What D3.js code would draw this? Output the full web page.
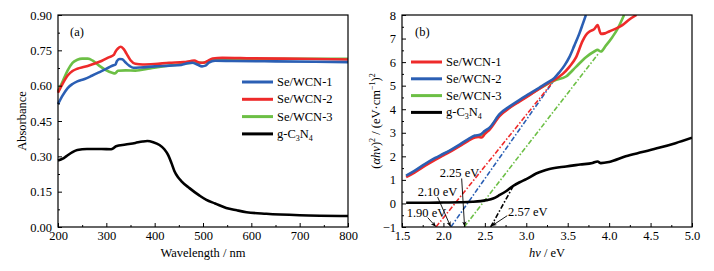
<html>
<head>
<meta charset="utf-8" />
<title>Absorbance and Tauc plots</title>
<script src="https://cdn.jsdelivr.net/npm/d3@7/dist/d3.min.js"></script>
<style>
body { margin: 0; background: #fff; }
.tick text { fill: #000; }
.tick line { stroke: #000; }
.domain { stroke: none; }
</style>
</head>
<body>
<script>

// ---- panel (a): UV-vis absorbance ----
var waveTicks = [200, 300, 400, 500, 600, 700, 800];
var absTicks = [0, 0.15, 0.30, 0.45, 0.60, 0.75, 0.90];

var absWCN1 = [[200,0.522],[210,0.56],[220,0.59],[230,0.607],[240,0.618],[255,0.628],[270,0.642],[290,0.662],[305,0.677],[315,0.687],[319,0.69],[322,0.705],[328,0.713],[333,0.712],[340,0.698],[348,0.684],[356,0.676],[370,0.677],[400,0.682],[430,0.685],[455,0.688],[468,0.695],[478,0.697],[488,0.69],[498,0.682],[505,0.685],[512,0.698],[525,0.706],[560,0.705],[650,0.703],[800,0.70]];
var absWCN2 = [[200,0.570],[210,0.61],[220,0.643],[230,0.662],[240,0.672],[255,0.68],[270,0.69],[290,0.705],[305,0.72],[316,0.732],[319,0.745],[324,0.758],[330,0.765],[336,0.755],[342,0.735],[350,0.708],[360,0.693],[375,0.69],[400,0.692],[430,0.697],[460,0.70],[475,0.705],[482,0.707],[492,0.698],[500,0.697],[510,0.705],[520,0.715],[540,0.718],[600,0.716],[700,0.714],[800,0.711]];
var absWCN3 = [[200,0.577],[210,0.62],[220,0.665],[230,0.697],[240,0.71],[250,0.715],[262,0.715],[272,0.706],[285,0.685],[300,0.665],[312,0.655],[318,0.652],[324,0.663],[340,0.665],[360,0.664],[390,0.673],[420,0.683],[450,0.69],[480,0.697],[500,0.697],[515,0.705],[530,0.71],[600,0.713],[700,0.714],[800,0.714]];
var absGCN = [[200,0.282],[210,0.29],[217,0.30],[230,0.318],[240,0.327],[260,0.331],[290,0.331],[310,0.33],[315,0.335],[320,0.343],[340,0.35],[360,0.357],[375,0.363],[385,0.365],[397,0.36],[410,0.348],[420,0.33],[428,0.305],[435,0.27],[441,0.237],[448,0.212],[455,0.195],[472,0.165],[493,0.133],[507,0.115],[525,0.1],[548,0.081],[570,0.071],[590,0.063],[631,0.056],[700,0.05],[800,0.047]];

// ---- panel (b): Tauc plot ----
var evTicks = [1.5, 2.0, 2.5, 3.0, 3.5, 4.0, 4.5, 5.0];
var taucTicks = [-1, 0, 1, 2, 3, 4, 5, 6, 7, 8];

var taucWCN1 = [[1.55,1.12],[1.65,1.31],[1.78,1.6],[1.9,1.85],[2.0,2.04],[2.1,2.23],[2.2,2.44],[2.3,2.66],[2.38,2.8],[2.42,2.82],[2.46,2.8],[2.5,2.95],[2.56,3.15],[2.68,3.72],[2.8,4.06],[2.92,4.33],[3.04,4.6],[3.16,4.87],[3.26,5.1],[3.34,5.25],[3.44,5.5],[3.52,5.8],[3.6,6.2],[3.68,6.9],[3.72,7.15],[3.76,7.29],[3.82,7.4],[3.86,7.57],[3.9,7.2],[3.95,7.22],[4.0,7.3],[4.1,7.45],[4.16,7.57],[4.24,7.8],[4.33,8.0]];
var taucWCN2 = [[1.55,1.18],[1.65,1.38],[1.78,1.68],[1.9,1.93],[2.0,2.11],[2.1,2.3],[2.2,2.51],[2.3,2.73],[2.38,2.88],[2.44,2.92],[2.5,3.08],[2.56,3.23],[2.68,3.8],[2.8,4.12],[2.92,4.4],[3.04,4.66],[3.16,4.92],[3.26,5.14],[3.34,5.33],[3.4,5.57],[3.46,5.85],[3.52,6.21],[3.58,6.7],[3.64,7.21],[3.68,7.6],[3.72,8.0]];
var taucWCN3 = [[1.55,1.16],[1.65,1.35],[1.78,1.65],[1.9,1.89],[2.0,2.08],[2.1,2.27],[2.2,2.48],[2.3,2.7],[2.38,2.85],[2.44,2.88],[2.5,3.03],[2.56,3.2],[2.68,3.76],[2.8,4.08],[2.92,4.36],[3.04,4.62],[3.16,4.88],[3.26,5.08],[3.34,5.22],[3.48,5.39],[3.6,5.8],[3.72,6.21],[3.82,6.45],[3.86,6.52],[3.9,6.45],[3.96,6.7],[4.04,7.07],[4.1,7.4],[4.18,8.0]];
var taucGCN = [[1.55,0.03],[1.8,0.03],[2.0,0.04],[2.2,0.05],[2.35,0.07],[2.45,0.1],[2.52,0.14],[2.6,0.21],[2.68,0.36],[2.76,0.53],[2.84,0.74],[2.92,0.9],[3.0,1.03],[3.12,1.27],[3.2,1.38],[3.28,1.46],[3.48,1.57],[3.65,1.65],[3.8,1.72],[3.86,1.78],[3.9,1.71],[4.0,1.76],[4.2,2.0],[4.4,2.18],[4.6,2.36],[4.8,2.56],[5.0,2.79]];

// tangent lines (start at band gap on -1, end where read)
var fitWCN1 = [[1.91,-1],[3.33,5.2]];
var fitWCN2 = [[2.09,-1],[3.33,5.2]];
var fitWCN3 = [[2.25,-1],[3.87,6.36]];
var fitGCN = [[2.57,-1],[2.84,0.72]];

// band gap labels: text position, arrow start, arrow tip (data units)
var gapLabels = [
	{text: "1.90 eV", tx: 1.557, ty: -0.58, from: [1.81, -0.6], to: [1.905, -0.97]},
	{text: "2.10 eV", tx: 1.69, ty: 0.32, from: [1.93, 0.27], to: [2.085, -0.97]},
	{text: "2.25 eV", tx: 1.955, ty: 1.12, from: [2.22, 1.06], to: [2.255, -0.97]},
	{text: "2.57 eV", tx: 2.78, ty: -0.53, from: [2.77, -0.52], to: [2.585, -0.95]}
];

var blue = "#2b5fb4", red = "#ee2a2a", green = "#6cbf45", black = "#000";
var serif = "'Liberation Serif', 'Times New Roman', 'DejaVu Serif', serif";

var svg = d3.select("body").append("svg")
	.attr("width", 714)
	.attr("height", 271)
	.attr("font-family", serif);

svg.append("defs").append("marker")
	.attr("id", "arrow")
	.attr("viewBox", "0 0 10 10")
	.attr("refX", 9).attr("refY", 5)
	.attr("markerWidth", 6).attr("markerHeight", 6)
	.attr("orient", "auto")
	.append("path").attr("d", "M0,1 L10,5 L0,9 L3,5 Z").attr("fill", "#000");

function drawFrame(g, x, y, xTicks, yTicks, xMinor, yMinor, xFmt, yFmt) {
	var x0 = x.range()[0], x1 = x.range()[1], y0 = y.range()[0], y1 = y.range()[1];
	g.append("g").attr("transform", "translate(0," + y0 + ")")
		.call(d3.axisBottom(x).tickValues(xMinor).tickSize(-2).tickFormat(""));
	g.append("g").attr("transform", "translate(" + x0 + ",0)")
		.call(d3.axisLeft(y).tickValues(yMinor).tickSize(-2).tickFormat(""));
	g.append("g").attr("transform", "translate(0," + y0 + ")")
		.call(d3.axisBottom(x).tickValues(xTicks).tickSizeInner(-4).tickSizeOuter(0).tickPadding(4).tickFormat(xFmt))
		.attr("font-family", serif).attr("font-size", 12.5);
	g.append("g").attr("transform", "translate(" + x0 + ",0)")
		.call(d3.axisLeft(y).tickValues(yTicks).tickSizeInner(-4).tickSizeOuter(0).tickPadding(6).tickFormat(yFmt))
		.attr("font-family", serif).attr("font-size", 12.5);
	g.append("rect")
		.attr("x", x0).attr("y", y1)
		.attr("width", x1 - x0).attr("height", y0 - y1)
		.attr("fill", "none").attr("stroke", "#000").attr("stroke-width", 1.2);
}

function drawLegend(g, items, lx, ly, gap) {
	items.forEach(function(it, i) {
		var yy = ly + i * gap;
		g.append("line").attr("x1", lx).attr("x2", lx + 31).attr("y1", yy).attr("y2", yy)
			.attr("stroke", it.color).attr("stroke-width", 3);
		var t = g.append("text").attr("x", lx + 35).attr("y", yy + 4).attr("font-size", 12.5);
		if (it.name == "g-C3N4") {
			t.append("tspan").text("g-C");
			t.append("tspan").attr("font-size", 8).attr("dy", 3).text("3");
			t.append("tspan").attr("dy", -3).text("N");
			t.append("tspan").attr("font-size", 8).attr("dy", 3).text("4");
		} else {
			t.text(it.name);
		}
	});
}

// ---------- panel (a) ----------
var xA = d3.scaleLinear().domain([200, 800]).range([58, 348]);
var yA = d3.scaleLinear().domain([0, 0.9]).range([227, 15]);
var gA = svg.append("g");

var lineA = d3.line().x(d => xA(d[0])).y(d => yA(d[1])).curve(d3.curveMonotoneX);

[[absGCN, black], [absWCN3, green], [absWCN2, red], [absWCN1, blue]].forEach(function(s) {
	gA.append("path").datum(s[0]).attr("d", lineA)
		.attr("fill", "none").attr("stroke", s[1]).attr("stroke-width", 2.6);
});

drawFrame(gA, xA, yA, waveTicks, absTicks,
	d3.range(250, 800, 100), d3.range(0.075, 0.9, 0.15),
	d3.format("d"), d3.format(".2f"));

drawLegend(gA, [
	{name: "Se/WCN-1", color: blue},
	{name: "Se/WCN-2", color: red},
	{name: "Se/WCN-3", color: green},
	{name: "g-C3N4", color: black}
], 242, 82, 17.3);

gA.append("text").attr("x", 70).attr("y", 36).attr("font-size", 12.5).text("(a)");

gA.append("text").attr("x", 203).attr("y", 257).attr("text-anchor", "middle")
	.attr("font-size", 12.5).text("Wavelength / nm");
gA.append("text").attr("transform", "translate(26,121) rotate(-90)")
	.attr("text-anchor", "middle").attr("font-size", 12.5).text("Absorbance");

// ---------- panel (b) ----------
var xB = d3.scaleLinear().domain([1.5, 5.0]).range([402, 692]);
var yB = d3.scaleLinear().domain([-1, 8]).range([227, 15]);
var gB = svg.append("g");

gB.append("clipPath").attr("id", "clipB").append("rect")
	.attr("x", 402).attr("y", 15).attr("width", 290).attr("height", 212);

var lineB = d3.line().x(d => xB(d[0])).y(d => yB(d[1])).curve(d3.curveMonotoneX);
var plotB = gB.append("g").attr("clip-path", "url(#clipB)");

[[fitWCN3, green], [fitWCN2, blue], [fitWCN1, red], [fitGCN, black]].forEach(function(s) {
	plotB.append("path").datum(s[0]).attr("d", d3.line().x(d => xB(d[0])).y(d => yB(d[1])))
		.attr("fill", "none").attr("stroke", s[1]).attr("stroke-width", 1.6)
		.attr("stroke-dasharray", "5,2,1.5,2");
});

[[taucGCN, black], [taucWCN3, green], [taucWCN1, red], [taucWCN2, blue]].forEach(function(s) {
	plotB.append("path").datum(s[0]).attr("d", lineB)
		.attr("fill", "none").attr("stroke", s[1]).attr("stroke-width", 2.6);
});

drawFrame(gB, xB, yB, evTicks, taucTicks,
	d3.range(1.75, 5.0, 0.5), d3.range(-0.5, 8, 1),
	d3.format(".1f"), d3.format("d"));

gapLabels.forEach(function(l) {
	gB.append("line")
		.attr("x1", xB(l.from[0])).attr("y1", yB(l.from[1]))
		.attr("x2", xB(l.to[0])).attr("y2", yB(l.to[1]))
		.attr("stroke", "#000").attr("stroke-width", 0.9)
		.attr("marker-end", "url(#arrow)");
	gB.append("text").attr("x", xB(l.tx)).attr("y", yB(l.ty))
		.attr("font-size", 12.5).text(l.text);
});

drawLegend(gB, [
	{name: "Se/WCN-1", color: red},
	{name: "Se/WCN-2", color: blue},
	{name: "Se/WCN-3", color: green},
	{name: "g-C3N4", color: black}
], 411, 62, 16.8);

gB.append("text").attr("x", 415).attr("y", 36).attr("font-size", 12.5).text("(b)");

var xl = gB.append("text").attr("x", 547).attr("y", 257).attr("text-anchor", "middle").attr("font-size", 12.5);
xl.append("tspan").attr("font-style", "italic").text("hν");
xl.append("tspan").text(" / eV");

var yl = gB.append("text").attr("transform", "translate(380,121) rotate(-90)")
	.attr("text-anchor", "middle").attr("font-size", 12.5);
yl.append("tspan").text("(");
yl.append("tspan").attr("font-style", "italic").text("αhν");
yl.append("tspan").text(")");
yl.append("tspan").attr("font-size", 8).attr("dy", -5).text("2");
yl.append("tspan").attr("dy", 5).text(" / (eV·cm");
yl.append("tspan").attr("font-size", 8).attr("dy", -5).text("−1");
yl.append("tspan").attr("dy", 5).text(")");
yl.append("tspan").attr("font-size", 8).attr("dy", -5).text("2");

</script>
</body>
</html>
